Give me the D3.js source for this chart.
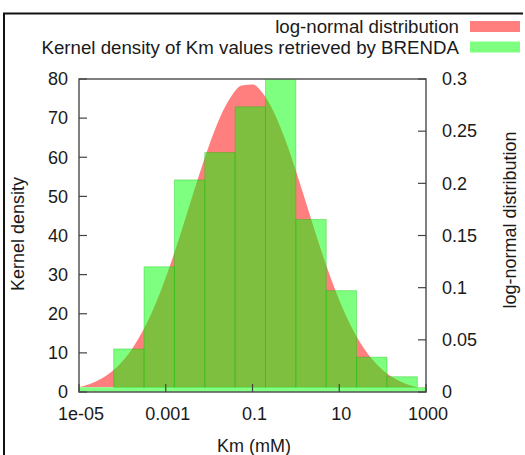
<!DOCTYPE html>
<html>
<head>
<meta charset="utf-8">
<script src="https://d3js.org/d3.v7.min.js"></script>
<style>
  body { margin: 0; background: #fff; }
  svg text { font-family: "Liberation Sans", Arial, sans-serif; fill: #1a1a1a; }
</style>
</head>
<body>
<svg id="chart"></svg>
<script>
// histogram bins (log10 of Km, mM) and kernel density heights
const binEdges = [-4.2, -3.5, -2.8, -2.1, -1.4, -0.7, 0, 0.7, 1.4, 2.1, 2.8];
const kernelDensity = [11, 32, 54.2, 61.2, 72.9, 84, 44.1, 25.9, 8.9, 3.9];
const baseBin = { from: -5, to: 3, value: 1.2 };

// log-normal curve (log10 Km, density)
const curveLogKm = [-5, -4.75, -4.5, -4.25, -4, -3.75, -3.5, -3.25, -3, -2.75, -2.5, -2.25, -2,
  -1.75, -1.5, -1.25, -1, -0.75, -0.5, -0.25, 0, 0.25, 0.5, 0.75, 1, 1.25, 1.5, 1.75, 2, 2.25, 2.5, 2.75, 3];
const curveDensity = [0.0046, 0.0076, 0.0124, 0.0194, 0.0294, 0.043, 0.0608, 0.0832, 0.1098, 0.14, 0.1726,
  0.2056, 0.2366, 0.2632, 0.2828, 0.2937, 0.2947, 0.2857, 0.2677, 0.2424, 0.212, 0.1792, 0.1464, 0.1155,
  0.0881, 0.0649, 0.0462, 0.0318, 0.0212, 0.0136, 0.0084, 0.0051, 0.0029];

const xTicks = [1e-5, 0.001, 0.1, 10, 1000];
const xTickLabels = ["1e-05", "0.001", "0.1", "10", "1000"];
const leftTicks = [0, 10, 20, 30, 40, 50, 60, 70, 80];
const rightTicks = [0, 0.05, 0.1, 0.15, 0.2, 0.25, 0.3];
const legendItems = ["log-normal distribution", "Kernel density of Km values retrieved by BRENDA"];

const width = 525, height = 455,
      plotLeft = 79, plotRight = 426, plotTop = 79, plotBottom = 392;

const svg = d3.select("#chart").attr("width", width).attr("height", height);

const x = d3.scaleLog().domain([1e-5, 1000]).range([plotLeft, plotRight]);
const yL = d3.scaleLinear().domain([0, 80]).range([plotBottom, plotTop]);
const yR = d3.scaleLinear().domain([0, 0.3]).range([plotBottom, plotTop]);

// frame round the figure
svg.append("path")
    .attr("d", `M4,${height} V13.5 H523`)
    .attr("fill", "none")
    .attr("stroke", "#111")
    .attr("stroke-width", 2);

svg.append("clipPath").attr("id", "plotClip")
  .append("rect")
    .attr("x", plotLeft).attr("y", plotTop)
    .attr("width", plotRight - plotLeft).attr("height", plotBottom - plotTop);

const plot = svg.append("g").attr("clip-path", "url(#plotClip)");

// red log-normal area
const area = d3.area()
    .x((d, i) => x(Math.pow(10, curveLogKm[i])))
    .y0(yL(baseBin.value))
    .y1((d) => yR(d))
    .curve(d3.curveMonotoneX);

plot.append("path")
    .datum(curveDensity)
    .attr("d", area)
    .attr("fill", "#ff0000")
    .attr("fill-opacity", 0.5);

// green strip along the baseline
plot.append("rect")
    .attr("x", x(Math.pow(10, baseBin.from)))
    .attr("width", x(Math.pow(10, baseBin.to)) - x(Math.pow(10, baseBin.from)))
    .attr("y", yL(baseBin.value))
    .attr("height", yL(0) - yL(baseBin.value))
    .attr("fill", "#80ff80");

// green histogram
plot.selectAll(".bar")
    .data(kernelDensity)
    .enter().append("rect")
      .attr("class", "bar")
      .attr("x", (d, i) => x(Math.pow(10, binEdges[i])))
      .attr("width", (d, i) => x(Math.pow(10, binEdges[i + 1])) - x(Math.pow(10, binEdges[i])))
      .attr("y", (d) => yL(d))
      .attr("height", (d) => yL(baseBin.value) - yL(d))
      .attr("fill", "#00ff00")
      .attr("fill-opacity", 0.5)
      .attr("stroke", "#00c000")
      .attr("stroke-opacity", 0.35)
      .attr("stroke-width", 1);

// axes box
svg.append("rect")
    .attr("x", plotLeft).attr("y", plotTop)
    .attr("width", plotRight - plotLeft).attr("height", plotBottom - plotTop)
    .attr("fill", "none")
    .attr("stroke", "#555")
    .attr("stroke-width", 1.5);

const tickLen = 8;
const ticks = svg.append("g").attr("stroke", "#444").attr("stroke-width", 1.2);

ticks.selectAll(".lt").data(leftTicks).enter().append("line")
    .attr("x1", plotLeft).attr("x2", plotLeft + tickLen)
    .attr("y1", (d) => yL(d)).attr("y2", (d) => yL(d));
ticks.selectAll(".rt").data(rightTicks).enter().append("line")
    .attr("x1", plotRight).attr("x2", plotRight - tickLen)
    .attr("y1", (d) => yR(d)).attr("y2", (d) => yR(d));
ticks.selectAll(".bt").data(xTicks).enter().append("line")
    .attr("x1", (d) => x(d)).attr("x2", (d) => x(d))
    .attr("y1", plotBottom).attr("y2", plotBottom - tickLen);

const fs = 18;
svg.selectAll(".ll").data(leftTicks).enter().append("text")
    .attr("x", plotLeft - 11).attr("y", (d) => yL(d))
    .attr("dy", "0.35em")
    .attr("text-anchor", "end")
    .style("font-size", fs + "px")
    .text((d) => d);

svg.selectAll(".rl").data(rightTicks).enter().append("text")
    .attr("x", plotRight + 16).attr("y", (d) => yR(d))
    .attr("dy", "0.35em")
    .style("font-size", fs + "px")
    .text((d) => d);

svg.selectAll(".bl").data(xTicks).enter().append("text")
    .attr("x", (d) => x(d) + 2).attr("y", 420)
    .attr("text-anchor", "middle")
    .style("font-size", fs + "px")
    .text((d, i) => xTickLabels[i]);

svg.append("text")
    .attr("x", 254).attr("y", 452)
    .attr("text-anchor", "middle")
    .style("font-size", fs + "px")
    .text("Km (mM)");

svg.append("text")
    .attr("transform", `translate(24,234) rotate(-90)`)
    .attr("text-anchor", "middle")
    .style("font-size", fs + "px")
    .text("Kernel density");

svg.append("text")
    .attr("transform", `translate(516,220) rotate(-90)`)
    .attr("text-anchor", "middle")
    .style("font-size", fs + "px")
    .text("log-normal distribution");

// legend
const legendColors = ["#ff0000", "#00ff00"];
const legend = svg.selectAll(".leg").data(legendItems).enter().append("g")
    .attr("transform", (d, i) => `translate(0,${26.5 + i * 20.5})`);
legend.append("text")
    .attr("x", 459).attr("y", 0)
    .attr("dy", "0.35em")
    .attr("text-anchor", "end")
    .style("font-size", "18.7px")
    .text((d) => d);
legend.append("rect")
    .attr("x", 470).attr("y", -5.5)
    .attr("width", 50).attr("height", 11)
    .attr("fill", (d, i) => legendColors[i])
    .attr("fill-opacity", 0.5);
</script>
</body>
</html>
